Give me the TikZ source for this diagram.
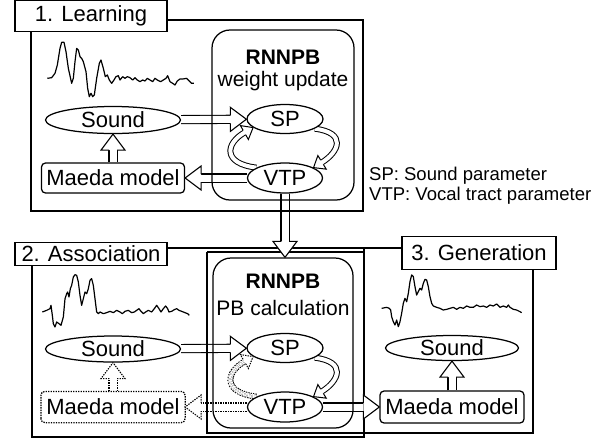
\documentclass[tikz,border=0pt]{standalone}
\usepackage{fontspec}
\setmainfont{Liberation Sans}
\usetikzlibrary{shapes.geometric,decorations.markings,calc}
\pgfdeclarelayer{bg}\pgfdeclarelayer{fg}\pgfsetlayers{bg,main,fg}
\tikzset{
  lw/.style={line width=1.25pt},
  lab/.style={draw, lw, fill=white, inner sep=0, font=\fontsize{22}{24}\selectfont},
  ell/.style={ellipse, draw, lw, fill=white, inner sep=0, font=\fontsize{22}{24}\selectfont},
  mbox/.style={rectangle, rounded corners=4pt, draw, lw, fill=white, inner sep=0, minimum width=143pt, minimum height=30pt, font=\fontsize{22}{24}\selectfont},
  rbox/.style={rectangle, rounded corners=18pt, draw, lw, inner sep=0},
  ttl/.style={inner sep=0, font=\fontsize{21}{23}\selectfont\bfseries},
  subt/.style={inner sep=0, font=\fontsize{21}{23}\selectfont},
  leg/.style={anchor=west, inner sep=0, font=\fontsize{18.5}{20}\selectfont},
  wave/.style={line width=1.2pt, line join=round},
  dots/.style={dash pattern=on 1.4pt off 1.1pt},
  bshaft/.style={line width=1.1pt, double=white, double distance=7pt, shorten >=15.5pt},
  bhead/.style={decoration={markings, mark=at position 0.9999 with {\fill[white] (0.5,0) -- (-16,12.5) -- (-16,-12.5) -- cycle; \draw[line width=1.1pt, line join=miter, #1] (-16,4) -- (-16,12) -- (0,0) -- (-16,-12) -- (-16,-4);}}, decorate},
  bhead/.default={},
  sshaft/.style={line width=1pt, double=white, double distance=4pt, shorten >=9.5pt},
  shead/.style={decoration={markings, mark=at position 0.999 with {\fill[white] (0.5,0) -- (-10,8.5) -- (-10,-8.5) -- cycle; \draw[line width=1pt, line join=miter, #1] (-10,2.5) -- (-10,8) -- (0,0) -- (-10,-8) -- (-10,-2.5);}}, decorate},
  shead/.default={},
}
\newcommand{\barr}[2][]{%
  \begin{pgfonlayer}{bg}\draw[bshaft,#1] #2;\end{pgfonlayer}%
  \begin{pgfonlayer}{fg}\path[bhead={#1}] #2;\end{pgfonlayer}}
\newcommand{\sarr}[2][]{%
  \begin{pgfonlayer}{bg}\draw[sshaft,#1] #2;\end{pgfonlayer}%
  \begin{pgfonlayer}{fg}\path[shead={#1}] #2;\end{pgfonlayer}}
\begin{document}
\begin{tikzpicture}[x=1pt,y=-1pt]
\useasboundingbox (0,0) rectangle (612,440);

% ---------- 1. Learning ----------
\draw[lw] (31,20) rectangle (363,211);
\node[lab, minimum width=152pt, minimum height=31pt] (l1) at (91,16.2) {1. Learning};
\node[rbox, minimum width=142pt, minimum height=170pt] (rb1) at (283,115) {};
\node[ttl] (t1) at (283,57) {RNNPB};
\node[subt] (s1) at (283,81) {weight update};
\draw[wave, shift={(40,35)}, scale=0.3333] plot coordinates {(22,130) (35,128) (45,115) (52,90) (60,40) (65,22) (72,22) (78,50) (85,100) (95,145) (100,130) (105,80) (110,40) (115,45) (120,65) (125,70) (130,80) (138,110) (143,160) (148,185) (153,175) (158,185) (163,180) (170,130) (178,85) (183,75) (190,100) (196,125) (202,120) (208,135) (215,145) (222,135) (228,125) (235,122) (240,135) (248,125) (255,130) (262,125) (270,128) (278,135) (285,128) (292,135) (300,140) (308,135) (315,138) (322,130) (330,135) (338,140) (345,130) (352,135) (362,140) (370,135) (378,130) (383,122) (390,140) (398,145) (405,150) (412,138) (420,132) (428,132) (440,130) (448,138) (455,145) (462,145)};
\node[ell, minimum width=135pt, minimum height=27pt] (sound1) at (113,120) {Sound};
\node[ell, minimum width=76pt, minimum height=29pt] (sp1) at (285,119) {SP};
\node[ell, minimum width=75pt, minimum height=30pt] (vtp1) at (285,178) {VTP};
\node[mbox] (maeda1) at (113,178) {Maeda model};

\node[leg] (lg1) at (369,176) {SP: Sound parameter};
\node[leg] (lg2) at (369,196) {VTP: Vocal tract parameter};

% ---------- 2. Association / 3. Generation frames ----------
\draw[lw] (32,265) -- (32,437) -- (364,437) -- (364,248);
\draw[lw] (207,252) -- (364,252);
\draw[lw] (207,252) -- (207,433) -- (533,433) -- (533,270);
\node[lab, minimum width=152pt, minimum height=23pt] (l2) at (91,254) {2. Association};
\node[lab, minimum width=154pt, minimum height=33pt] (l3) at (479,253) {3. Generation};
\draw[lw] (l2.east |- 0,248) -- (l3.west |- 0,248);

\node[rbox, minimum width=140pt, minimum height=170pt] (rb2) at (283,343) {};
\node[ttl] (t2) at (283,281) {RNNPB};
\node[subt] (s2) at (283,308) {PB calculation};

\draw[wave, shift={(35,262)}, scale=0.3333] plot coordinates {(22,150) (35,145) (45,140) (48,130) (52,160) (55,185) (60,195) (65,180) (72,185) (78,190) (85,165) (90,110) (95,95) (98,90) (102,105) (106,80) (110,70) (115,45) (120,38) (125,40) (130,60) (135,100) (140,130) (145,110) (150,90) (155,95) (160,80) (165,55) (170,50) (175,70) (180,110) (185,150) (190,155) (195,150) (205,155) (215,152) (225,148) (235,152) (245,145) (255,150) (262,155) (270,148) (280,145) (290,152) (298,150) (305,145) (312,140) (318,148) (325,155) (332,150) (340,145) (350,150) (358,140) (365,130) (372,140) (378,150) (385,140) (392,132) (398,140) (402,150) (410,148) (418,143) (425,140) (432,145) (440,148) (450,152) (458,155) (463,160)};
\node[ell, minimum width=135pt, minimum height=26pt] (sound2) at (113,349) {Sound};
\node[ell, minimum width=76pt, minimum height=29pt] (sp2) at (285,348) {SP};
\node[ell, minimum width=75pt, minimum height=30pt] (vtp2) at (285,407) {VTP};
\node[mbox, fill=none, draw=none] (maeda2) at (113,407) {Maeda model};
\draw[lw, dots, rounded corners=4pt] (maeda2.south west) rectangle (maeda2.north east);

\draw[wave, shift={(300,220)}, scale=0.3333] plot coordinates {(245,265) (260,262) (268,265) (272,270) (275,290) (280,305) (285,315) (290,300) (295,320) (300,305) (305,280) (310,250) (315,235) (320,245) (325,220) (330,185) (335,165) (340,170) (345,200) (350,225) (355,215) (360,205) (365,210) (370,190) (375,178) (380,180) (385,200) (390,230) (395,250) (400,258) (410,262) (420,265) (430,270) (440,268) (450,265) (460,262) (470,268) (480,262) (490,265) (500,258) (510,262) (520,262) (530,255) (540,260) (550,258) (560,262) (570,255) (580,258) (590,252) (600,262) (610,258) (620,262) (625,255) (630,262) (640,268) (650,270) (660,275) (665,278)};
\node[ell, minimum width=133pt, minimum height=25pt] (sound3) at (452,348) {Sound};
\node[mbox, minimum width=144pt, minimum height=32pt] (maeda3) at (452,407) {Maeda model};

% ---------- arrows ----------
\barr{(sound1) -- (sp1)}
\barr{(maeda1) -- (maeda1 |- sound1.south)}
\barr{(vtp1) -- (maeda1)}
\sarr{(vtp1.160) .. controls +(-34,-4) and +(-28,16) .. (sp1.195)}
\sarr{(sp1.-18) .. controls +(32,4) and +(26,-16) .. (vtp1.20)}
\barr{(vtp1) -- (vtp1 |- rb2.north)}

\barr{(sound2) -- (sp2)}
\barr[dots]{(maeda2) -- (maeda2 |- sound2.south)}
\barr[dots]{(vtp2) -- (maeda2)}
\sarr[dots]{(vtp2.160) .. controls +(-34,-4) and +(-28,16) .. (sp2.195)}
\sarr{(sp2.-18) .. controls +(32,4) and +(26,-16) .. (vtp2.20)}
\barr{(vtp2) -- (maeda3)}
\barr{(maeda3) -- (maeda3 |- sound3.south)}
\end{tikzpicture}
\end{document}
